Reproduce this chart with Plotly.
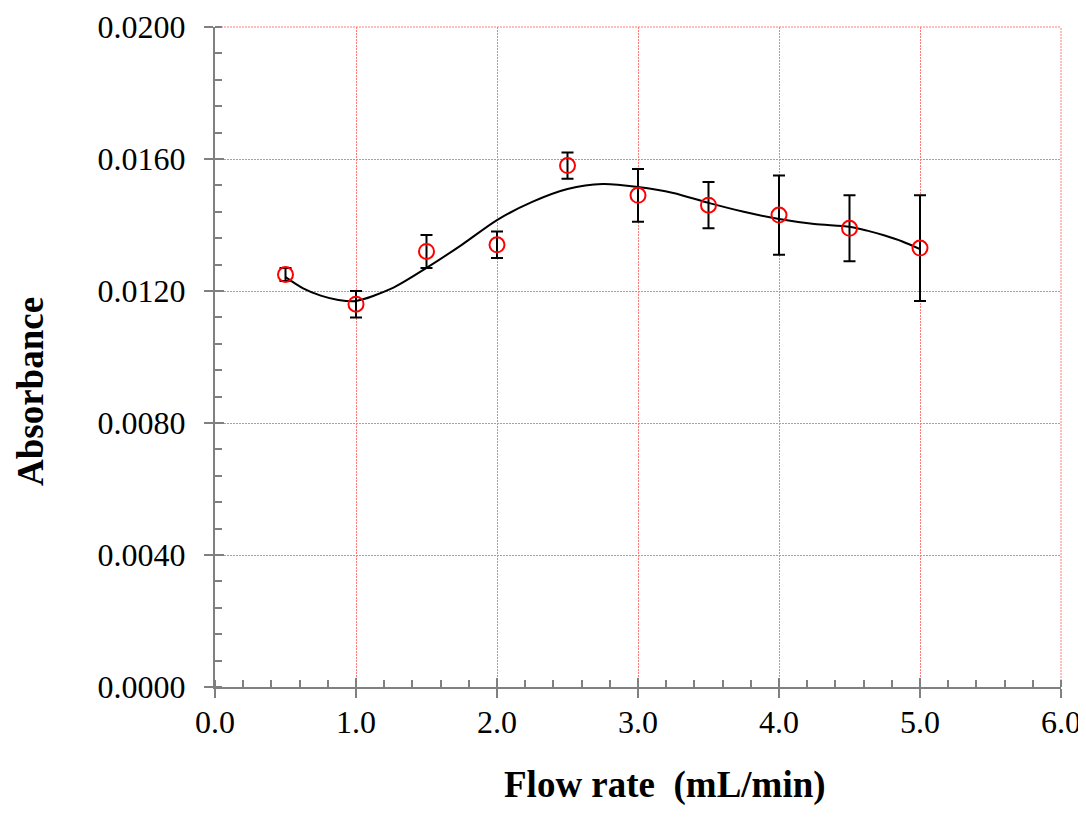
import plotly.graph_objects as go

# measured points
flow_rate = [0.5, 1.0, 1.5, 2.0, 2.5, 3.0, 3.5, 4.0, 4.5, 5.0]
absorbance = [0.0125, 0.0116, 0.0132, 0.0134, 0.0158, 0.0149, 0.0146, 0.0143, 0.0139, 0.0133]
abs_err = [0.0002, 0.0004, 0.0005, 0.0004, 0.0004, 0.0008, 0.0007, 0.0012, 0.0010, 0.0016]

# trend curve
curve_x = [0.5, 0.625, 0.75, 0.875, 1.0, 1.25, 1.5, 1.75, 2.0, 2.25, 2.5, 2.75, 3.0,
           3.25, 3.5, 3.75, 4.0, 4.25, 4.5, 4.625, 4.75, 4.875, 5.0]
curve_y = [0.01242, 0.01208, 0.01186, 0.01173, 0.0117, 0.01207, 0.0127, 0.0134, 0.01415,
           0.0147, 0.01509, 0.01524, 0.01515, 0.01497, 0.01467, 0.0144, 0.01418,
           0.01403, 0.01395, 0.01383, 0.01368, 0.0135, 0.01327]

FONT = "Liberation Serif, Times New Roman, serif"
AXIS_GREY = "#808080"
GRID_RED = "#ff7a7a"
GRID_DASH = "2px,1px"

# the page body adds an 8px offset, so the figure is sized to fit what is left
W, H = 1078, 822
L, R, T, B = 207, 25, 19, 143

fig = go.Figure()

fig.add_trace(go.Scatter(
    x=curve_x, y=curve_y, mode="lines",
    line=dict(color="black", width=2, shape="spline", smoothing=0.8),
    showlegend=False, hoverinfo="skip"
))

fig.add_trace(go.Scatter(
    x=flow_rate, y=absorbance, mode="markers",
    marker=dict(symbol="circle-open", size=15, color="red", line=dict(width=2, color="red")),
    error_y=dict(type="data", array=abs_err, visible=True, color="black", thickness=2, width=6),
    showlegend=False
))

# invisible trace so the overlay axes (inner half of the crossing ticks) get drawn
fig.add_trace(go.Scatter(x=[0], y=[0], xaxis="x2", yaxis="y2", mode="markers",
                         marker=dict(opacity=0), showlegend=False, hoverinfo="skip"))

x_range = [0, 6]
y_range = [0, 0.02]

fig.update_layout(
    template="none",
    width=W, height=H,
    paper_bgcolor="white", plot_bgcolor="white",
    margin=dict(l=L, r=R, t=T, b=B),
    font=dict(family=FONT, size=32, color="black"),
    xaxis=dict(
        range=x_range, dtick=1, tick0=0, tickformat=".1f", automargin=False,
        showline=True, linecolor=AXIS_GREY, linewidth=2,
        ticks="outside", ticklen=9, tickwidth=2, tickcolor=AXIS_GREY,
        ticklabelstandoff=-3,
        showgrid=True, gridcolor=GRID_RED, gridwidth=1, griddash=GRID_DASH,
        zeroline=False,
        minor=dict(dtick=0.2, ticks="inside", ticklen=7, tickwidth=2,
                   tickcolor=AXIS_GREY, showgrid=False),
        tickfont=dict(family=FONT, size=32),
    ),
    yaxis=dict(
        range=y_range, dtick=0.004, tick0=0, tickformat=".4f", automargin=False,
        showline=True, linecolor=AXIS_GREY, linewidth=2,
        ticks="outside", ticklen=9, tickwidth=2, tickcolor=AXIS_GREY,
        ticklabelstandoff=12,
        showgrid=True, gridcolor=GRID_RED, gridwidth=1, griddash=GRID_DASH,
        zeroline=False,
        minor=dict(dtick=0.0008, ticks="inside", ticklen=7, tickwidth=2,
                   tickcolor=AXIS_GREY, showgrid=False),
        tickfont=dict(family=FONT, size=32),
    ),
    xaxis2=dict(
        overlaying="x", range=x_range, dtick=1, tick0=0, automargin=False,
        ticks="inside", ticklen=9, tickwidth=2, tickcolor=AXIS_GREY,
        showticklabels=False, showgrid=False, zeroline=False, showline=False,
        anchor="y2", side="bottom",
    ),
    yaxis2=dict(
        overlaying="y", range=y_range, dtick=0.004, tick0=0, automargin=False,
        ticks="inside", ticklen=9, tickwidth=2, tickcolor=AXIS_GREY,
        showticklabels=False, showgrid=False, zeroline=False, showline=False,
        anchor="x2", side="left",
    ),
    # plotly drops grid lines sitting on the plot edge; draw the top/right ones here
    shapes=[
        dict(type="line", xref="paper", yref="paper", x0=0, x1=1, y0=1, y1=1,
             line=dict(color=GRID_RED, width=1, dash=GRID_DASH), layer="below"),
        dict(type="line", xref="paper", yref="paper", x0=1, x1=1, y0=0, y1=1,
             line=dict(color=GRID_RED, width=1, dash=GRID_DASH), layer="below"),
    ],
    annotations=[
        dict(text="<b>Flow rate  (mL/min)</b>", x=657, y=777, xref="paper", yref="paper",
             showarrow=False, font=dict(family=FONT, size=37)),
        dict(text="<b>Absorbance</b>", x=23, y=384, xref="paper", yref="paper",
             showarrow=False, textangle=-90, font=dict(family=FONT, size=37)),
    ],
)

# convert pixel positions of the titles to paper coordinates
plot_w = W - L - R
plot_h = H - T - B
for ann in fig.layout.annotations:
    px, py = ann.x, ann.y
    ann.x = (px - L) / plot_w
    ann.y = (H - B - py) / plot_h
    ann.xanchor = "center"
    ann.yanchor = "middle"

fig.write_html("out.html")
